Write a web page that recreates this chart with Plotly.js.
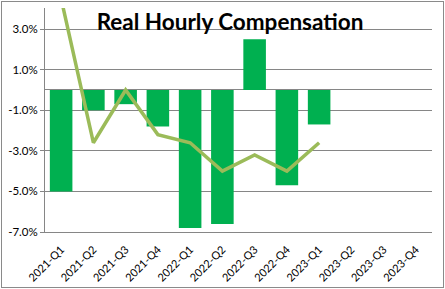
<!DOCTYPE html>
<html>
<head>
<meta charset="utf-8">
<script src="https://cdn.plot.ly/plotly-3.0.1.min.js"></script>
<style>
  html, body { margin: 0; padding: 0; background: #ffffff; }
  #chart { position: absolute; left: 1px; top: 1px; width: 441px; height: 285px; border: 1px solid #8a8a8a; }
</style>
</head>
<body>
<div id="chart"></div>
<script>
const categories = ["2021-Q1","2021-Q2","2021-Q3","2021-Q4","2022-Q1","2022-Q2","2022-Q3","2022-Q4","2023-Q1","2023-Q2","2023-Q3","2023-Q4"];
const barValues = [-5.0, -1.0, -0.7, -1.8, -6.8, -6.6, 2.5, -4.7, -1.7, null, null, null];
const lineValues = [4.5, -2.6, 0.0, -2.2, -2.6, -4.0, -3.2, -4.0, -2.6, null, null, null];
const yTickVals = [-7, -5, -3, -1, 1, 3];
const yTickText = yTickVals.map(v => v.toFixed(1) + "%");
const titleText = "Real Hourly Compensation";

const font = "Lato, 'Open Sans', 'DejaVu Sans', sans-serif";

const traces = [
  {
    type: "bar",
    x: categories,
    y: barValues,
    marker: { color: "#00b050" },
    hoverinfo: "skip"
  },
  {
    type: "scatter",
    mode: "lines",
    x: categories,
    y: lineValues,
    line: { color: "#9bbb59", width: 3.5 },
    connectgaps: false,
    hoverinfo: "skip"
  }
];

const layout = {
  width: 441,
  height: 285,
  margin: { l: 43, r: 11, t: 6, b: 55 },
  paper_bgcolor: "#ffffff",
  plot_bgcolor: "#ffffff",
  showlegend: false,
  bargap: 0.3,
  font: { family: font, size: 11, color: "#000000" },
  title: {
    text: "<b>" + titleText + "</b>",
    font: { family: font, size: 22.5, color: "#000000" },
    xref: "container", yref: "container",
    x: 0.517, y: 0.928, xanchor: "center", yanchor: "middle"
  },
  xaxis: {
    type: "category",
    range: [-0.5, 11.5],
    tickangle: -45,
    showgrid: false,
    showline: true,
    linecolor: "#868686",
    linewidth: 1,
    ticks: "outside",
    ticklen: 6,
    tickcolor: "rgba(0,0,0,0)",
    tickfont: { family: font, size: 11, color: "#000000" },
    fixedrange: true
  },
  yaxis: {
    range: [-7, 4.04],
    tickvals: yTickVals,
    ticktext: yTickText,
    showgrid: true,
    gridcolor: "#868686",
    gridwidth: 1,
    zeroline: true,
    zerolinecolor: "#868686",
    zerolinewidth: 1,
    showline: true,
    linecolor: "#868686",
    linewidth: 1,
    ticks: "outside",
    ticklen: 4,
    tickcolor: "#868686",
    tickfont: { family: font, size: 11.5, color: "#000000" },
    fixedrange: true
  }
};

Plotly.newPlot("chart", traces, layout, { displayModeBar: false, staticPlot: true });
</script>
</body>
</html>
